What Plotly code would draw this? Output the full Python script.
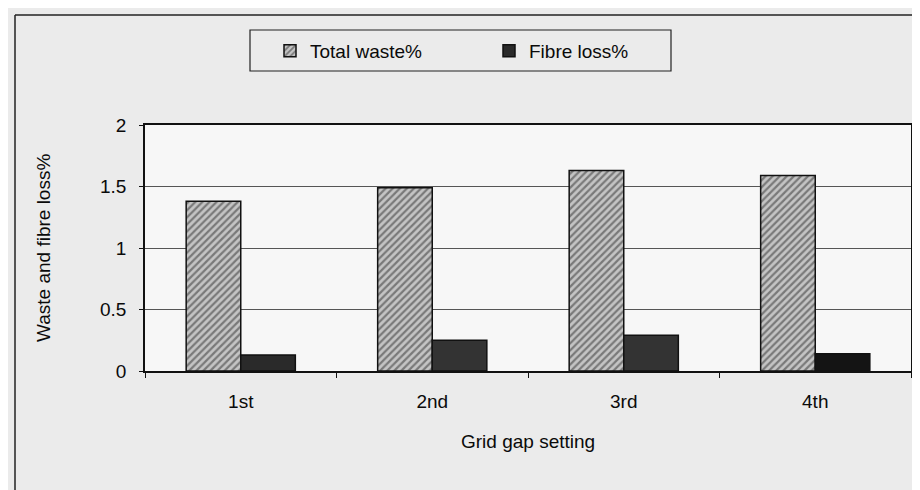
import plotly.graph_objects as go

# ---- data ----
categories = ["1st", "2nd", "3rd", "4th"]
total_waste = [1.38, 1.49, 1.63, 1.59]
fibre_loss = [0.13, 0.25, 0.29, 0.14]
y_ticks = [0, 0.5, 1, 1.5, 2]
y_tick_labels = ["0", "0.5", "1", "1.5", "2"]

W, H = 920, 490
L, R, T, B = 137, 17, 117, 127
PW, PH = W - L - R, H - T - B


def px(x):
    return (x - L) / PW


def py(y):
    return (H - B - y) / PH


FONT = "Arial, 'Liberation Sans', sans-serif"
FIBRE_SHADES = ["#2a2a2a", "#333333", "#333333", "#141414"]

fig = go.Figure()
fig.add_trace(go.Bar(
    x=categories, y=total_waste, name="Total waste%",
    marker=dict(color="#c4c4c4",
                pattern=dict(shape="/", size=5, solidity=0.45,
                             fgcolor="#2e2e2e", bgcolor="#c4c4c4"),
                line=dict(color="#111", width=1.5)),
))
fig.add_trace(go.Bar(
    x=categories, y=fibre_loss, name="Fibre loss%",
    marker=dict(color=FIBRE_SHADES, line=dict(color="#111", width=1.5)),
))

shapes = [
    # outer frame (top and left edges of the scanned chart area)
    dict(type="line", xref="paper", yref="paper", x0=px(7), x1=px(W + 5),
         y0=py(7), y1=py(7), line=dict(color="#222", width=1.5)),
    dict(type="line", xref="paper", yref="paper", x0=px(7), x1=px(7),
         y0=py(7), y1=py(H + 5), line=dict(color="#222", width=1.5)),
    # legend box
    dict(type="rect", xref="paper", yref="paper", x0=px(242), x1=px(663),
         y0=py(22), y1=py(63), line=dict(color="#222", width=1.2)),
]

fig.update_layout(
    width=W, height=H,
    margin=dict(l=L, r=R, t=T, b=B),
    paper_bgcolor="#ebebeb",
    plot_bgcolor="#f7f7f7",
    font=dict(family=FONT, size=19, color="#0a0a0a"),
    barmode="group", bargap=0.43, bargroupgap=0,
    showlegend=True,
    legend=dict(orientation="h", xref="container", yref="container",
                x=262 / W, y=1 - 43 / H, xanchor="left", yanchor="middle",
                bgcolor="rgba(0,0,0,0)", borderwidth=0,
                entrywidth=174, entrywidthmode="pixels",
                font=dict(size=19)),
    xaxis=dict(showline=True, linecolor="#111", linewidth=1.5, mirror=True,
               ticks="outside", ticklen=5, tickcolor="#111", tickson="boundaries",
               ticklabelstandoff=12, showgrid=False),
    yaxis=dict(range=[0, 2], tickvals=y_ticks, ticktext=y_tick_labels,
               showline=True, linecolor="#111", linewidth=1.5, mirror=True,
               ticks="outside", ticklen=4, tickcolor="#111",
               ticklabelstandoff=9, showgrid=True, gridcolor="#555", gridwidth=1,
               zeroline=False),
    shapes=shapes,
    annotations=[
        dict(text="Waste and fibre loss%", xref="paper", yref="paper",
             x=px(35), y=py(240), textangle=-90, showarrow=False,
             xanchor="center", yanchor="middle", font=dict(size=19)),
        dict(text="Grid gap setting", xref="paper", yref="paper",
             x=px(520), y=py(433), showarrow=False,
             xanchor="center", yanchor="middle", font=dict(size=19)),
    ],
)

fig.write_html("out.html")
